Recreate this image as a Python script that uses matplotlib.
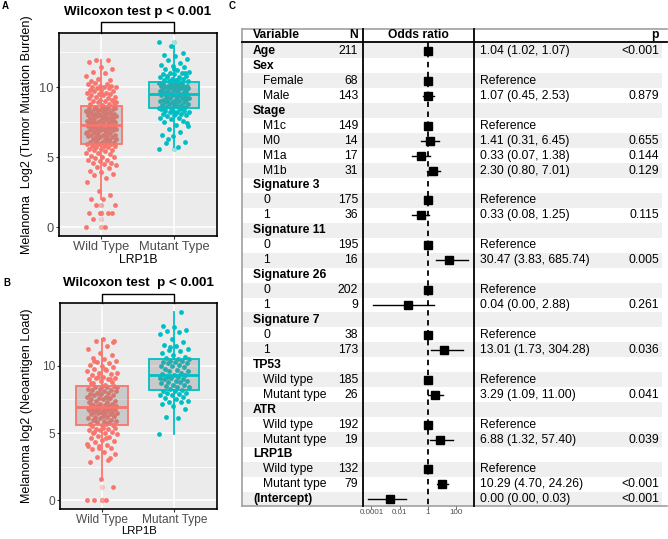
import numpy as np
import matplotlib
matplotlib.use("Agg")
import matplotlib.pyplot as plt

plt.rcParams['font.family'] = ['Liberation Sans', 'DejaVu Sans']

# ---------------- data: panels A and B ----------------
groups = ["Wild Type", "Mutant Type"]

a_wild = [0, 0, 0.6, 1, 1, 1, 1, 1.6, 1.6, 2, 2, 2.3, 2.6,
          3.2, 3.5, 3.7, 3.8, 3.9, 4.0, 4.2, 4.3, 4.4, 4.5, 4.6, 4.6, 4.7, 4.8, 4.8, 4.9,
          5.0, 5.0, 5.1, 5.2, 5.3, 5.3, 5.4, 5.5, 5.5, 5.6, 5.6, 5.7, 5.7, 5.8, 5.8, 5.8, 5.9, 5.9,
          5.9, 6.0, 6.0, 6.1, 6.1, 6.1, 6.2, 6.2, 6.3, 6.3, 6.3, 6.4, 6.4, 6.5, 6.5, 6.5, 6.6, 6.6,
          6.6, 6.7, 6.7, 6.8, 6.8, 6.8, 6.9, 6.9, 6.9, 7.0, 7.0, 7.0, 7.0, 7.1, 7.1, 7.1, 7.2, 7.2,
          7.2, 7.2, 7.3, 7.3, 6.2, 6.4, 6.7, 6.9, 7.1, 7.3,
          7.3, 7.4, 7.4, 7.4, 7.5, 7.5, 7.5, 7.6, 7.6, 7.6, 7.7, 7.7, 7.7, 7.8, 7.8, 7.8, 7.9, 7.9,
          7.9, 8.0, 8.0, 8.0, 8.0, 8.1, 8.1, 8.1, 8.2, 8.2, 8.2, 8.3, 8.3, 8.3, 8.4, 8.4, 8.4, 8.5,
          8.5, 8.5, 8.5, 8.6, 7.5, 7.8, 8.0, 8.2, 8.4, 8.6,
          8.7, 8.7, 8.8, 8.8, 8.9, 8.9, 9.0, 9.0, 9.1, 9.1, 9.2, 9.2, 9.3, 9.3, 9.4, 9.4, 9.5, 9.5,
          9.6, 9.6, 9.7, 9.7, 9.8, 9.8, 9.9, 9.9, 10.0, 10.0, 10.0, 10.1, 10.1, 10.2, 10.2, 10.3,
          8.9, 9.5,
          10.4, 10.5, 10.6, 10.8, 11.0, 11.1, 11.3, 11.4, 11.8, 11.9, 11.9]

a_mut = [5.6, 5.7, 6.0, 6.1, 6.5, 6.6, 6.8, 7.0, 7.2, 7.3, 7.5, 7.6, 7.7, 7.8, 7.8, 7.9, 8.0,
         8.0, 8.1, 8.1, 8.2, 8.2, 8.2, 8.3, 8.3, 8.3, 8.4, 8.4, 6.3, 7.4, 8.1, 8.4,
         8.5, 8.5, 8.5, 8.6, 8.6, 8.6, 8.7, 8.7, 8.7, 8.8, 8.8, 8.8, 8.9, 8.9, 8.9, 9.0, 9.0,
         9.0, 9.1, 9.1, 9.1, 9.2, 9.2, 9.2, 9.3, 9.3, 9.3, 9.4, 9.4, 9.4, 9.5, 9.5,
         9.5, 9.6, 9.6, 9.6, 9.7, 9.7, 9.7, 9.8, 9.8, 9.8, 9.9, 9.9, 9.9, 10.0, 10.0, 10.0,
         10.0, 10.1, 10.1, 10.1, 10.1, 10.2, 10.2, 10.2, 10.2, 10.3, 10.3, 9.6, 9.8, 10.0,
         10.2, 10.3,
         10.4, 10.4, 10.5, 10.5, 10.6, 10.6, 10.7, 10.7, 10.8, 10.8, 10.9, 10.9, 11.0, 11.0,
         11.1, 11.2, 11.3, 11.4, 11.5, 11.6, 11.7, 11.9, 12.0, 12.2, 12.3, 12.4, 12.9, 13.2,
         10.5, 10.7, 11.0, 11.3]

b_wild = [0, 0, 0, 1, 1.6, 2.8, 3.0, 3.2, 3.4, 3.6, 3.8, 3.9, 4.0, 4.0, 4.1, 4.3, 4.4, 4.5,
          4.6, 4.7, 4.8, 4.9, 5.0, 5.0, 5.1, 5.2, 5.2, 5.3, 5.3, 5.4, 5.4, 5.5, 3.1, 3.9, 4.2,
          4.6, 5.1,
          5.6, 5.6, 5.7, 5.8, 5.8, 5.9, 5.9, 6.0, 6.0, 6.1, 6.1, 6.2, 6.2, 6.3, 6.3, 6.4, 6.4,
          6.5, 6.5, 6.5, 6.6, 6.6, 6.6, 6.7, 6.7, 6.7, 6.8, 6.8, 6.8, 6.9, 6.9, 6.9, 5.7, 6.0,
          6.3, 6.6, 6.9,
          7.0, 7.0, 7.0, 7.1, 7.1, 7.2, 7.2, 7.3, 7.3, 7.4, 7.4, 7.5, 7.5, 7.6, 7.6, 7.7, 7.7,
          7.8, 7.8, 7.9, 7.9, 8.0, 8.0, 8.1, 8.1, 8.2, 8.2, 8.3, 8.3, 8.4, 8.4, 8.5, 8.5, 7.2,
          7.6, 8.0, 8.4,
          8.6, 8.7, 8.8, 8.9, 9.0, 9.0, 9.1, 9.1, 9.2, 9.3, 9.4, 9.5, 9.6, 9.7, 9.8, 9.9, 10.0,
          10.1, 10.2, 10.3, 10.4, 10.5, 10.6, 10.8, 11.0, 11.3, 11.5, 11.9, 11.9, 12.0, 8.7,
          9.0, 9.2, 9.5, 9.8, 10.4, 11.8]

b_mut = [4.9, 6.1, 6.2, 6.8, 7.0, 7.2, 7.3, 7.3, 7.4, 7.5, 7.6, 7.7, 7.8, 7.8, 7.9, 8.0, 8.0,
         8.1, 8.1,
         8.2, 8.3, 8.4, 8.4, 8.5, 8.6, 8.6, 8.7, 8.8, 8.8, 8.9, 8.9, 9.0, 9.0, 9.1, 9.1, 9.2,
         9.2, 9.3,
         9.3, 9.4, 9.5, 9.6, 9.6, 9.7, 9.8, 9.9, 10.0, 10.0, 10.1, 10.2, 10.2, 10.3, 10.3,
         10.4, 10.4, 10.5, 10.5,
         10.6, 10.7, 10.8, 11.0, 11.1, 11.2, 11.3, 11.5, 11.6, 11.8, 12.0, 12.4, 12.5, 12.6,
         12.7, 12.9, 13.0, 14.0, 11.4]

# ---------------- data: panel C (logistic regression) ----------------
row_labels = ["Age", "Sex", "Female", "Male", "Stage", "M1c", "M0", "M1a", "M1b",
              "Signature 3", "0", "1", "Signature 11", "0", "1", "Signature 26", "0", "1",
              "Signature 7", "0", "1", "TP53", "Wild type", "Mutant type", "ATR", "Wild type",
              "Mutant type", "LRP1B", "Wild type", "Mutant type", "(Intercept)"]
row_is_header = [1, 1, 0, 0, 1, 0, 0, 0, 0, 1, 0, 0, 1, 0, 0, 1, 0, 0, 1, 0, 0, 1, 0, 0,
                 1, 0, 0, 1, 0, 0, 1]
row_n = ["211", "", "68", "143", "", "149", "14", "17", "31", "", "175", "36", "", "195",
         "16", "", "202", "9", "", "38", "173", "", "185", "26", "", "192", "19", "", "132",
         "79", ""]
row_est = ["1.04 (1.02, 1.07)", "", "Reference", "1.07 (0.45, 2.53)", "", "Reference",
           "1.41 (0.31, 6.45)", "0.33 (0.07, 1.38)", "2.30 (0.80, 7.01)", "", "Reference",
           "0.33 (0.08, 1.25)", "", "Reference", "30.47 (3.83, 685.74)", "", "Reference",
           "0.04 (0.00, 2.88)", "", "Reference", "13.01 (1.73, 304.28)", "", "Reference",
           "3.29 (1.09, 11.00)", "", "Reference", "6.88 (1.32, 57.40)", "", "Reference",
           "10.29 (4.70, 24.26)", "0.00 (0.00, 0.03)"]
row_p = ["<0.001", "", "", "0.879", "", "", "0.655", "0.144", "0.129", "", "", "0.115", "",
         "", "0.005", "", "", "0.261", "", "", "0.036", "", "", "0.041", "", "", "0.039", "",
         "", "<0.001", "<0.001"]
nan = np.nan
or_est = [1.04, nan, 1, 1.07, nan, 1, 1.41, 0.33, 2.30, nan, 1, 0.33, nan, 1, 30.47, nan, 1,
          0.036, nan, 1, 13.01, nan, 1, 3.29, nan, 1, 6.88, nan, 1, 10.29, 0.002]
or_lo = [1.02, nan, nan, 0.45, nan, nan, 0.31, 0.07, 0.80, nan, nan, 0.08, nan, nan, 3.83,
         nan, nan, 0.00013, nan, nan, 1.73, nan, nan, 1.09, nan, nan, 1.32, nan, nan, 4.70,
         0.000055]
or_hi = [1.07, nan, nan, 2.53, nan, nan, 6.45, 1.38, 7.01, nan, nan, 1.25, nan, nan, 685.74,
         nan, nan, 2.88, nan, nan, 304.28, nan, nan, 11.00, nan, nan, 57.40, nan, nan, 24.26,
         0.03]
or_ticks = [1e-4, 1e-2, 1, 100]
or_ticklabels = ["0.0001", "0.01", "1", "100"]

RED = '#F8766D'
TEAL = '#00BFC4'
W, H = 668, 539
fig = plt.figure(figsize=(W / 100, H / 100), dpi=100)


def frect(l, t, r, b):
    return [l / W, 1 - b / H, (r - l) / W, (b - t) / H]


def box_panel(rect, wild, mut, ylim, widths, ylabel, title, title_off, bracket_off,
              ylab_x, xlab_pad, tick_fs, xlab_fs):
    ax = fig.add_axes(rect)
    ax.set_facecolor('#EBEBEB')
    ax.set_xlim(0.42, 2.59)
    ax.set_ylim(*ylim)
    ax.set_yticks([0, 5, 10])
    ax.set_yticks([2.5, 7.5, 12.5], minor=True)
    ax.set_xticks([1, 2])
    ax.set_xticklabels(groups)
    ax.grid(True, which='major', color='white', lw=1.1)
    ax.grid(True, which='minor', axis='y', color='white', lw=0.55)
    ax.set_axisbelow(True)
    ax.tick_params(which='major', length=2.5, width=0.8, color='#333333',
                   labelcolor='#4D4D4D', labelsize=tick_fs, pad=1.2)
    ax.tick_params(which='minor', length=0)
    for s in ax.spines.values():
        s.set_color('black')
        s.set_linewidth(1.2)
    for i, (vals, col) in enumerate([(wild, RED), (mut, TEAL)]):
        n = len(vals)
        jit = ((np.arange(n) * 0.618034) % 1 - 0.5) * 0.42
        ax.scatter(i + 1 + jit, vals, s=12, color=col, lw=0, zorder=2)
        ax.boxplot([vals], positions=[i + 1], widths=widths[i], patch_artist=True,
                   whis=1.5, showcaps=False, manage_ticks=False,
                   boxprops=dict(facecolor=(0.5, 0.5, 0.5, 0.3), edgecolor=col, lw=1.3),
                   medianprops=dict(color=col, lw=2.0),
                   whiskerprops=dict(color=col, lw=1.3),
                   flierprops=dict(marker='o', markerfacecolor=col, alpha=0.35,
                                   markeredgecolor='none', markersize=3.8),
                   zorder=3)
    ax.set_xlabel('LRP1B', fontsize=xlab_fs, labelpad=xlab_pad)
    ax.set_ylabel(ylabel, fontsize=9.1)
    ax.yaxis.set_label_coords(ylab_x, 0.5)
    top = ylim[1]
    yb = top + bracket_off
    ax.plot([1, 1, 2, 2], [top, yb, yb, top], color='black', lw=1.0, clip_on=False)
    ax.text(0.5, 1 + title_off, title, transform=ax.transAxes, ha='center', va='center',
            fontweight='bold', fontsize=9.6)
    return ax


box_panel(frect(59, 33, 217, 236), a_wild, a_mut, (-0.64, 13.86), (0.56, 0.68),
          'Melanoma  Log2 (Tumor Mutation Burden)', 'Wilcoxon test p < 0.001',
          21 / 203, 11 / 14, -26 / 158, 0.5, 9.3, 8.8)
box_panel(frect(60, 303, 217, 509), b_wild, b_mut, (-0.67, 14.7), (0.72, 0.69),
          'Melanoma log2 (Neoantigen Load)', 'Wilcoxon test  p < 0.001',
          20 / 206, 9 / 13.4, -27 / 157, 0.0, 8.6, 8.2)

fig.text(5 / W, 1 - 6 / H, 'A', fontweight='bold', fontsize=7, ha='center', va='center')
fig.text(7 / W, 1 - 283 / H, 'B', fontweight='bold', fontsize=7, ha='center', va='center')
fig.text(232 / W, 1 - 6 / H, 'C', fontweight='bold', fontsize=7, ha='center', va='center')

# ---------------- panel C ----------------
YTOP, YBOT = -1.47, 30.45
nrows = len(row_labels)
ax_t = fig.add_axes(frect(242, 29, 662, 506))
ax_t.set_xlim(0, 420)
ax_t.set_ylim(YBOT, YTOP)
ax_t.axis('off')
for r in range(0, nrows, 2):
    ax_t.axhspan(r - 0.5, r + 0.5, color='#EFEFEF', lw=0, zorder=0)
grey = '#A0A0A0'
ax_t.plot([0, 0], [YTOP, YBOT], color=grey, lw=1.2, clip_on=False)
ax_t.plot([0, 425], [YTOP, YTOP], color=grey, lw=1.2, clip_on=False)
ax_t.plot([0, 425], [YBOT, YBOT], color=grey, lw=1.2, clip_on=False)
ax_t.plot([0, 425], [-0.6, -0.6], color='black', lw=1.3, clip_on=False)
ax_t.plot([121, 121], [YTOP, YBOT], color='black', lw=1.3, clip_on=False)
ax_t.plot([232, 232], [YTOP, YBOT], color='black', lw=1.3, clip_on=False)

fs = 8.7
hy = -1.07
ax_t.text(11, hy, 'Variable', ha='left', va='center', fontsize=fs, fontweight='bold')
ax_t.text(116, hy, 'N', ha='right', va='center', fontsize=fs, fontweight='bold')
ax_t.text(176.5, hy, 'Odds ratio', ha='center', va='center', fontsize=fs, fontweight='bold')
ax_t.text(417, hy, 'p', ha='right', va='center', fontsize=fs, fontweight='bold')
for r in range(nrows):
    hdr = row_is_header[r]
    ax_t.text(11 if hdr else 21, r, row_labels[r], ha='left', va='center', fontsize=fs,
              fontweight='bold' if hdr else 'normal')
    ax_t.text(116, r, row_n[r], ha='right', va='center', fontsize=fs)
    ax_t.text(238, r, row_est[r], ha='left', va='center', fontsize=fs)
    ax_t.text(417, r, row_p[r], ha='right', va='center', fontsize=fs)

ax_f = fig.add_axes(frect(363, 29, 474, 506))
ax_f.patch.set_alpha(0)
ax_f.set_xscale('log')
ax_f.set_xlim(10 ** -4.6, 10 ** 3.26)
ax_f.set_ylim(YBOT, YTOP)
for s in ax_f.spines.values():
    s.set_visible(False)
ax_f.set_yticks([])
ax_f.set_xticks(or_ticks)
ax_f.set_xticklabels(or_ticklabels)
ax_f.minorticks_off()
ax_f.tick_params(axis='x', length=2, width=0.6, color='#555555', labelcolor='#4D4D4D',
                 labelsize=5.8, pad=0.5)
ax_f.plot([1, 1], [-0.6, YBOT], color='black', lw=1.3, ls=(0, (3, 2.5)), zorder=2)
for r in range(nrows):
    if np.isnan(or_est[r]):
        continue
    if not np.isnan(or_lo[r]):
        ax_f.plot([or_lo[r], or_hi[r]], [r, r], color='black', lw=1.0, zorder=3)
    ax_f.plot([or_est[r]], [r], marker='s', color='black', markersize=6.0, zorder=4)

fig.savefig('out.png', dpi=100)
